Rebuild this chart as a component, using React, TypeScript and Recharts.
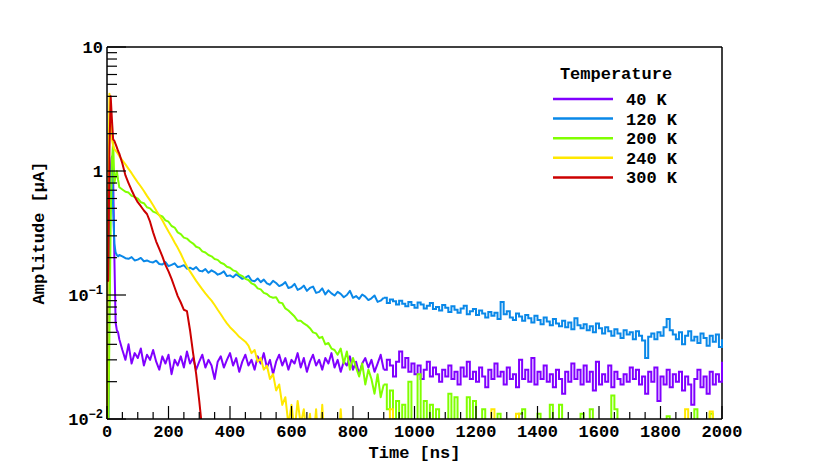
import React from 'react';
import { LineChart, Line, XAxis, YAxis, ReferenceLine, Legend, Label } from 'recharts';

// bin start times [ns]: fine bins over the peak, 10 ns bins after
const timeNs = [
  0, 4, 8, 12, 16, 20, 24, 28, 32, 36, 40,
  50, 60, 70, 80, 90, 100, 110, 120, 130, 140,
  150, 160, 170, 180, 190, 200, 210, 220, 230, 240,
  250, 260, 270, 280, 290, 300, 310, 320, 330, 340,
  350, 360, 370, 380, 390, 400, 410, 420, 430, 440,
  450, 460, 470, 480, 490, 500, 510, 520, 530, 540,
  550, 560, 570, 580, 590, 600, 610, 620, 630, 640,
  650, 660, 670, 680, 690, 700, 710, 720, 730, 740,
  750, 760, 770, 780, 790, 800, 810, 820, 830, 840,
  850, 860, 870, 880, 890, 900, 910, 920, 930, 940,
  950, 960, 970, 980, 990, 1000, 1010, 1020, 1030, 1040,
  1050, 1060, 1070, 1080, 1090, 1100, 1110, 1120, 1130, 1140,
  1150, 1160, 1170, 1180, 1190, 1200, 1210, 1220, 1230, 1240,
  1250, 1260, 1270, 1280, 1290, 1300, 1310, 1320, 1330, 1340,
  1350, 1360, 1370, 1380, 1390, 1400, 1410, 1420, 1430, 1440,
  1450, 1460, 1470, 1480, 1490, 1500, 1510, 1520, 1530, 1540,
  1550, 1560, 1570, 1580, 1590, 1600, 1610, 1620, 1630, 1640,
  1650, 1660, 1670, 1680, 1690, 1700, 1710, 1720, 1730, 1740,
  1750, 1760, 1770, 1780, 1790, 1800, 1810, 1820, 1830, 1840,
  1850, 1860, 1870, 1880, 1890, 1900, 1910, 1920, 1930, 1940,
  1950, 1960, 1970, 1980, 1990, 2000,
];

// before this the traces are drawn as lines, after it as histogram steps
const STEP_FROM_NS = 900;

// amplitudes [uA]; 0.005 = below the 0.01 floor
const amp40K = [
  0.008, 0.008, 0.2, 1.0, 1.3, 0.9, 0.2, 0.06, 0.052, 0.05, 0.044,
  0.036, 0.03, 0.04, 0.028, 0.034, 0.031, 0.037, 0.027, 0.033, 0.03,
  0.036, 0.029, 0.025, 0.032, 0.028, 0.033, 0.023, 0.03, 0.027, 0.032,
  0.026, 0.035, 0.028, 0.031, 0.025, 0.029, 0.033, 0.026, 0.03, 0.027,
  0.021, 0.029, 0.032, 0.026, 0.03, 0.034, 0.027, 0.031, 0.024, 0.029,
  0.033, 0.027, 0.03, 0.025, 0.032, 0.028, 0.034, 0.026, 0.03, 0.023,
  0.029, 0.033, 0.027, 0.031, 0.025, 0.03, 0.028, 0.034, 0.026, 0.031,
  0.024, 0.029, 0.033, 0.027, 0.03, 0.025, 0.031, 0.028, 0.034, 0.026,
  0.03, 0.024, 0.029, 0.027, 0.032, 0.025, 0.029, 0.023, 0.028, 0.031,
  0.026, 0.03, 0.024, 0.028, 0.033, 0.025, 0.03, 0.027, 0.022, 0.029,
  0.035, 0.026, 0.031, 0.024, 0.028, 0.023, 0.027, 0.021, 0.025, 0.029,
  0.022, 0.026, 0.023, 0.02, 0.025, 0.022, 0.027, 0.021, 0.024, 0.019,
  0.026, 0.022, 0.029, 0.021, 0.024, 0.02, 0.026, 0.022, 0.018, 0.025,
  0.021, 0.028, 0.022, 0.024, 0.019, 0.026, 0.021, 0.023, 0.018, 0.03,
  0.021, 0.025, 0.02, 0.031, 0.019, 0.024, 0.021, 0.027, 0.02, 0.023,
  0.018, 0.025, 0.021, 0.016, 0.024, 0.02, 0.028, 0.021, 0.025, 0.019,
  0.027, 0.02, 0.024, 0.017, 0.029, 0.019, 0.023, 0.02, 0.027, 0.018,
  0.024, 0.021, 0.019, 0.023, 0.02, 0.026, 0.021, 0.025, 0.019, 0.022,
  0.016, 0.024, 0.02, 0.026, 0.014, 0.022, 0.019, 0.025, 0.018, 0.023,
  0.02, 0.024, 0.017, 0.022, 0.019, 0.013, 0.021, 0.025, 0.018, 0.022,
  0.016, 0.024, 0.019, 0.023, 0.02, 0.029,
];

const amp120K = [
  0.008, 0.008, 0.15, 0.9, 1.3, 0.5, 0.26, 0.22, 0.21, 0.205, 0.21,
  0.205, 0.198, 0.196, 0.202, 0.19, 0.193, 0.199, 0.187, 0.19, 0.185,
  0.183, 0.189, 0.178, 0.176, 0.184, 0.171, 0.175, 0.18, 0.168, 0.17,
  0.174, 0.163, 0.166, 0.161, 0.168, 0.157, 0.155, 0.162, 0.151, 0.158,
  0.153, 0.146, 0.149, 0.155, 0.142, 0.144, 0.139, 0.147, 0.141, 0.135,
  0.138, 0.143, 0.131, 0.129, 0.136, 0.127, 0.133, 0.124, 0.121, 0.13,
  0.125, 0.118, 0.121, 0.127, 0.114, 0.116, 0.123, 0.11, 0.113, 0.119,
  0.108, 0.114, 0.117, 0.104, 0.106, 0.113, 0.101, 0.109, 0.103, 0.099,
  0.106, 0.102, 0.096, 0.1, 0.108, 0.095, 0.098, 0.093, 0.101, 0.097,
  0.091, 0.094, 0.099, 0.088, 0.09, 0.095, 0.086, 0.092, 0.089, 0.084,
  0.09, 0.085, 0.081, 0.088, 0.083, 0.079, 0.087, 0.084, 0.078, 0.082,
  0.086, 0.077, 0.08, 0.075, 0.083, 0.079, 0.073, 0.081, 0.076, 0.072,
  0.078, 0.082, 0.07, 0.074, 0.077, 0.069, 0.075, 0.071, 0.066, 0.073,
  0.068, 0.072, 0.064, 0.088, 0.07, 0.074, 0.066, 0.063, 0.071, 0.067,
  0.062, 0.069, 0.065, 0.06, 0.068, 0.063, 0.058, 0.066, 0.061, 0.057,
  0.064, 0.059, 0.056, 0.062, 0.055, 0.06, 0.053, 0.065, 0.057, 0.054,
  0.058, 0.052, 0.056, 0.05, 0.059, 0.054, 0.049, 0.055, 0.051, 0.047,
  0.053, 0.049, 0.045, 0.052, 0.048, 0.05, 0.044, 0.051, 0.047, 0.043,
  0.031, 0.046, 0.049, 0.044, 0.05, 0.047, 0.055, 0.064, 0.052, 0.048,
  0.044, 0.05, 0.04, 0.047, 0.051, 0.043, 0.046, 0.041, 0.049, 0.045,
  0.039, 0.047, 0.042, 0.048, 0.038, 0.044,
];

const amp200K = [
  0.008, 0.008, 0.05, 0.4, 1.2, 1.7, 0.8, 0.9, 1.0, 0.85, 0.74,
  0.71, 0.68, 0.67, 0.63, 0.62, 0.6, 0.56, 0.55, 0.51, 0.5,
  0.47, 0.46, 0.44, 0.43, 0.4, 0.39, 0.36, 0.35, 0.32, 0.31,
  0.29, 0.285, 0.27, 0.26, 0.245, 0.24, 0.225, 0.22, 0.21, 0.205,
  0.195, 0.192, 0.182, 0.178, 0.169, 0.166, 0.158, 0.155, 0.146, 0.142,
  0.135, 0.132, 0.124, 0.121, 0.113, 0.111, 0.104, 0.102, 0.097, 0.095,
  0.096, 0.087, 0.086, 0.078, 0.075, 0.071, 0.067, 0.062, 0.062, 0.059,
  0.057, 0.054, 0.05, 0.049, 0.045, 0.046, 0.04, 0.041, 0.037, 0.036,
  0.033, 0.037, 0.028, 0.035, 0.025, 0.031, 0.026, 0.022, 0.028, 0.019,
  0.025, 0.021, 0.016, 0.023, 0.015, 0.019, 0.012, 0.017, 0.01, 0.014,
  0.008, 0.013, 0.007, 0.02, 0.009, 0.006, 0.023, 0.006, 0.014, 0.007,
  0.013, 0.005, 0.012, 0.005, 0.005, 0.006, 0.016, 0.005, 0.015, 0.005,
  0.005, 0.005, 0.015, 0.006, 0.014, 0.005, 0.005, 0.012, 0.005, 0.005,
  0.005, 0.005, 0.011, 0.005, 0.005, 0.005, 0.005, 0.005, 0.005, 0.011,
  0.012, 0.005, 0.005, 0.005, 0.005, 0.011, 0.005, 0.005, 0.005, 0.013,
  0.005, 0.005, 0.013, 0.005, 0.005, 0.005, 0.005, 0.005, 0.005, 0.011,
  0.005, 0.005, 0.012, 0.005, 0.005, 0.005, 0.005, 0.005, 0.005, 0.0155,
  0.012, 0.005, 0.005, 0.005, 0.005, 0.005, 0.005, 0.005, 0.005, 0.005,
  0.005, 0.005, 0.005, 0.005, 0.005, 0.005, 0.005, 0.0105, 0.005, 0.005,
  0.005, 0.005, 0.005, 0.005, 0.005, 0.005, 0.012, 0.005, 0.005, 0.005,
  0.005, 0.011, 0.005, 0.005, 0.005, 0.005,
];

const amp240K = [
  0.008, 0.6, 4.2, 2.6, 1.8, 1.6, 1.5, 1.46, 1.42, 1.37, 1.32,
  1.22, 1.13, 1.04, 0.96, 0.88, 0.81, 0.75, 0.69, 0.63, 0.58,
  0.53, 0.48, 0.44, 0.4, 0.36, 0.325, 0.295, 0.265, 0.24, 0.215,
  0.19, 0.17, 0.155, 0.142, 0.13, 0.12, 0.111, 0.103, 0.096, 0.09,
  0.083, 0.076, 0.07, 0.064, 0.059, 0.055, 0.052, 0.049, 0.046, 0.044,
  0.042, 0.039, 0.034, 0.036, 0.029, 0.031, 0.025, 0.027, 0.021, 0.023,
  0.017, 0.019, 0.013, 0.015, 0.009, 0.013, 0.008, 0.014, 0.009, 0.012,
  0.007, 0.011, 0.006, 0.012, 0.005, 0.013, 0.005, 0.005, 0.005, 0.005,
  0.005, 0.012, 0.005, 0.005, 0.005, 0.005, 0.005, 0.005, 0.005, 0.005,
  0.005, 0.005, 0.005, 0.005, 0.005, 0.005, 0.005, 0.012, 0.005, 0.005,
  0.005, 0.005, 0.005, 0.005, 0.005, 0.005, 0.005, 0.005, 0.005, 0.005,
  0.005, 0.005, 0.005, 0.005, 0.005, 0.005, 0.005, 0.005, 0.005, 0.005,
  0.005, 0.005, 0.005, 0.005, 0.005, 0.005, 0.005, 0.005, 0.005, 0.005,
  0.012, 0.005, 0.005, 0.005, 0.005, 0.005, 0.005, 0.005, 0.011, 0.005,
  0.005, 0.005, 0.005, 0.005, 0.005, 0.005, 0.005, 0.005, 0.005, 0.005,
  0.005, 0.005, 0.005, 0.005, 0.005, 0.005, 0.005, 0.005, 0.005, 0.005,
  0.005, 0.005, 0.005, 0.005, 0.005, 0.005, 0.005, 0.005, 0.005, 0.005,
  0.005, 0.005, 0.005, 0.005, 0.005, 0.005, 0.005, 0.005, 0.005, 0.005,
  0.005, 0.005, 0.005, 0.005, 0.005, 0.005, 0.005, 0.005, 0.005, 0.005,
  0.005, 0.005, 0.005, 0.012, 0.005, 0.005, 0.005, 0.005, 0.005, 0.005,
  0.005, 0.0115, 0.005, 0.005, 0.005, 0.005,
];

// the 300 K trace ends once it leaves the axis
const amp300K = [
  0.13, 0.13, 1.5, 4.0, 2.6, 1.8, 1.75, 1.65, 1.55, 1.45, 1.38,
  1.15, 0.92, 0.8, 0.7, 0.62, 0.56, 0.52, 0.48, 0.45, 0.39,
  0.32, 0.27, 0.235, 0.205, 0.175, 0.155, 0.135, 0.115, 0.098, 0.087,
  0.076, 0.074, 0.052, 0.034, 0.023, 0.014, 0.008, 0.004,
];

const series = [
  { key: 't40', name: '40 K', color: '#8000ff', values: amp40K },
  { key: 't120', name: '120 K', color: '#0a88e8', values: amp120K },
  { key: 't200', name: '200 K', color: '#80ff00', values: amp200K },
  { key: 't240', name: '240 K', color: '#ffe800', values: amp240K },
  { key: 't300', name: '300 K', color: '#cc0000', values: amp300K },
];

const xTicks = [
  0, 50, 100, 150, 200, 250, 300, 350, 400, 450, 500, 550, 600, 650, 700, 750, 800, 850, 900, 950,
  1000, 1050, 1100, 1150, 1200, 1250, 1300, 1350, 1400, 1450, 1500, 1550, 1600, 1650, 1700, 1750,
  1800, 1850, 1900, 1950, 2000,
];
const yTicks = [
  0.01, 0.02, 0.03, 0.04, 0.05, 0.06, 0.07, 0.08, 0.09,
  0.1, 0.2, 0.3, 0.4, 0.5, 0.6, 0.7, 0.8, 0.9,
  1, 2, 3, 4, 5, 6, 7, 8, 9, 10,
];
const yLabels: Record<string, [string, string]> = {
  '10': ['10', ''],
  '1': ['1', ''],
  '0.1': ['10', '\u22121'],
  '0.01': ['10', '\u22122'],
};

// each trace is split into a line part (early) and a step part (late)
const chartData = timeNs.map((t, i) => {
  const row: Record<string, number | null> = { t };
  series.forEach((s) => {
    const v = s.values[i] ?? null;
    row[s.key + '_line'] = t <= STEP_FROM_NS ? v : null;
    row[s.key + '_step'] = t >= STEP_FROM_NS ? v : null;
  });
  return row;
});

const FONT = "'Liberation Mono', 'Courier New', monospace";

const XTick = (props: any) => {
  const { x, y, payload } = props;
  const major = payload.value % 200 === 0;
  return (
    <g>
      <line x1={x} y1={y} x2={x} y2={y - (major ? 13 : 7)} stroke="#000" strokeWidth={1.2} />
      {major && (
        <text x={x} y={y + 18} textAnchor="middle" fontFamily={FONT} fontWeight="bold" fontSize={17} fill="#000">
          {payload.value}
        </text>
      )}
    </g>
  );
};

const YTick = (props: any) => {
  const { x, y, payload } = props;
  const lab = yLabels[String(payload.value)];
  return (
    <g>
      <line x1={x} y1={y} x2={x + (lab ? 19 : 10)} y2={y} stroke="#000" strokeWidth={1.2} />
      {lab && (
        <text x={x - 4} y={y + 6} textAnchor="end" fontFamily={FONT} fontWeight="bold" fontSize={17} fill="#000">
          <tspan>{lab[0]}</tspan>
          {lab[1] && (
            <tspan dy={-7} fontSize={12}>
              {lab[1]}
            </tspan>
          )}
        </text>
      )}
    </g>
  );
};

const renderLegend = () => (
  <svg width={150} height={140}>
    <text x={68} y={19} textAnchor="middle" fontFamily={FONT} fontWeight="bold" fontSize={17} fill="#000">
      Temperature
    </text>
    {series.map((s, i) => (
      <g key={s.key}>
        <line x1={5} x2={65} y1={39 + i * 19.6} y2={39 + i * 19.6} stroke={s.color} strokeWidth={2.5} />
        <text x={78} y={45 + i * 19.6} fontFamily={FONT} fontWeight="bold" fontSize={17} fill="#000">
          {s.name}
        </text>
      </g>
    ))}
  </svg>
);

const App: React.FC = () => {
  return (
    <div style={{ position: 'absolute', left: 0, top: 0, width: 830, height: 466, background: '#fff' }}>
      <LineChart width={830} height={466} data={chartData} margin={{ top: 47, right: 108, left: 0, bottom: 0 }}>
        <XAxis
          dataKey="t"
          type="number"
          domain={[0, 2000]}
          ticks={xTicks}
          interval={0}
          tickSize={0}
          tickMargin={0}
          tickLine={false}
          tick={<XTick />}
          axisLine={{ stroke: '#000', strokeWidth: 1.5 }}
          height={47}
        >
          <Label
            content={(p: any) => (
              <text
                x={p.viewBox.x + p.viewBox.width / 2}
                y={p.viewBox.y + 39}
                textAnchor="middle"
                fontFamily={FONT}
                fontWeight="bold"
                fontSize={17}
                fill="#000"
              >
                Time [ns]
              </text>
            )}
          />
        </XAxis>
        <YAxis
          type="number"
          scale="log"
          domain={[0.01, 10]}
          allowDataOverflow
          ticks={yTicks}
          interval={0}
          tickSize={0}
          tickMargin={0}
          tickLine={false}
          tick={<YTick />}
          axisLine={{ stroke: '#000', strokeWidth: 1.5 }}
          width={107}
        >
          <Label
            content={(p: any) => {
              const cx = p.viewBox.x + 44;
              const cy = p.viewBox.y + p.viewBox.height / 2;
              return (
                <text
                  x={cx}
                  y={cy}
                  transform={`rotate(-90 ${cx} ${cy})`}
                  textAnchor="middle"
                  fontFamily={FONT}
                  fontWeight="bold"
                  fontSize={17}
                  fill="#000"
                >
                  Amplitude [μA]
                </text>
              );
            }}
          />
        </YAxis>
        <ReferenceLine y={10} stroke="#000" strokeWidth={1.5} />
        <ReferenceLine x={2000} stroke="#000" strokeWidth={1.5} />
        {series.map((s) => (
          <Line
            key={s.key + '_line'}
            dataKey={s.key + '_line'}
            name={s.name}
            type="linear"
            stroke={s.color}
            strokeWidth={2}
            strokeLinejoin="round"
            dot={false}
            activeDot={false}
            connectNulls={false}
            isAnimationActive={false}
          />
        ))}
        {series.map((s) => (
          <Line
            key={s.key + '_step'}
            dataKey={s.key + '_step'}
            name={s.name}
            type="stepAfter"
            stroke={s.color}
            strokeWidth={2}
            dot={false}
            activeDot={false}
            connectNulls={false}
            isAnimationActive={false}
          />
        ))}
        <Legend
          layout="horizontal"
          verticalAlign="middle"
          align="center"
          content={renderLegend}
          wrapperStyle={{ left: 548, top: 60, width: 150, height: 140 }}
        />
      </LineChart>
    </div>
  );
};

export default App;
